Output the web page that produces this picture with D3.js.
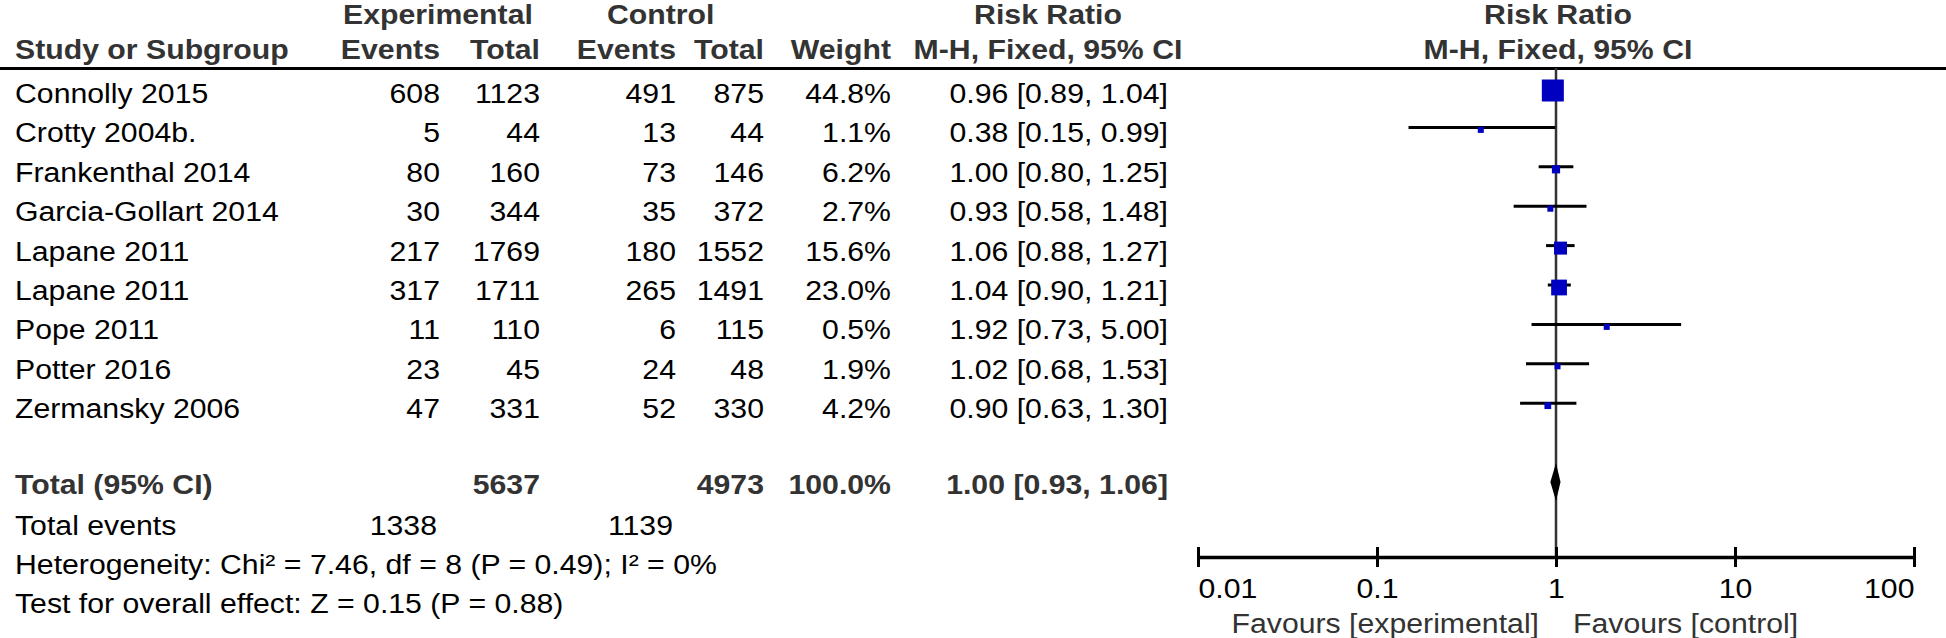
<!DOCTYPE html>
<html>
<head>
<meta charset="utf-8">
<script src="https://cdn.jsdelivr.net/npm/d3@7"></script>
<style>
  html, body { margin: 0; padding: 0; background: #fff; }
  svg { display: block; }
  text { font-family: "Liberation Sans", Arial, Helvetica, sans-serif; }
</style>
</head>
<body>
<svg id="chart" width="1946" height="638"></svg>
<script>
// ---------------- data ----------------
const studies = ["Connolly 2015", "Crotty 2004b.", "Frankenthal 2014", "Garcia-Gollart 2014",
  "Lapane 2011", "Lapane 2011", "Pope 2011", "Potter 2016", "Zermansky 2006"];
const expEvents = [608, 5, 80, 30, 217, 317, 11, 23, 47];
const expTotal = [1123, 44, 160, 344, 1769, 1711, 110, 45, 331];
const ctrlEvents = [491, 13, 73, 35, 180, 265, 6, 24, 52];
const ctrlTotal = [875, 44, 146, 372, 1552, 1491, 115, 48, 330];
const weights = [44.8, 1.1, 6.2, 2.7, 15.6, 23.0, 0.5, 1.9, 4.2];
const rr = [0.96, 0.38, 1.00, 0.93, 1.06, 1.04, 1.92, 1.02, 0.90];
const lower = [0.89, 0.15, 0.80, 0.58, 0.88, 0.90, 0.73, 0.68, 0.63];
const upper = [1.04, 0.99, 1.25, 1.48, 1.27, 1.21, 5.00, 1.53, 1.30];

const totalLabel = "Total (95% CI)";
const totalExp = 5637, totalCtrl = 4973, totalWeight = 100.0;
const totalRR = 1.00, totalLower = 0.93, totalUpper = 1.06;
const totalEventsExp = 1338, totalEventsCtrl = 1139;
const heterogeneity = "Heterogeneity: Chi² = 7.46, df = 8 (P = 0.49); I² = 0%";
const overallTest = "Test for overall effect: Z = 0.15 (P = 0.88)";
const tickValues = [0.01, 0.1, 1, 10, 100];
const tickLabels = ["0.01", "0.1", "1", "10", "100"];
const favourLeft = "Favours [experimental]";
const favourRight = "Favours [control]";

// ---------------- layout ----------------
const W = 1946, H = 638;
const FS = 27, SX = 1.12;
const svg = d3.select("#chart");

const rowY = d3.scaleLinear().domain([0, studies.length - 1]).range([103, 103 + 39.4 * (studies.length - 1)]);
const x = d3.scaleLog().domain([0.01, 100]).range([1198, 1914]);
const sq = d3.scaleSqrt().domain([0, 44.8]).range([0, 22]);

const col = { name: 15, expE: 440, expT: 540, ctlE: 676, ctlT: 764, wt: 891, rr: 1168 };

function txt(xp, yp, s, opt = {}) {
  return svg.append("text")
    .attr("transform", `translate(${xp},${yp}) scale(${SX},1)`)
    .attr("text-anchor", opt.anchor || "start")
    .attr("font-size", (opt.size || FS) + "px")
    .attr("font-weight", opt.bold ? "bold" : "normal")
    .attr("fill", opt.fill || "#000")
    .text(s);
}
const hdr = "#333";
const fmtRR = (a, l, u) => `${a.toFixed(2)} [${l.toFixed(2)}, ${u.toFixed(2)}]`;

// headers
txt(343, 24, "Experimental", { bold: true, fill: hdr });
txt(607, 24, "Control", { bold: true, fill: hdr });
txt(1048, 24, "Risk Ratio", { bold: true, fill: hdr, anchor: "middle" });
txt(1558, 24, "Risk Ratio", { bold: true, fill: hdr, anchor: "middle" });
txt(col.name, 59, "Study or Subgroup", { bold: true, fill: hdr });
txt(col.expE, 59, "Events", { bold: true, fill: hdr, anchor: "end" });
txt(col.expT, 59, "Total", { bold: true, fill: hdr, anchor: "end" });
txt(col.ctlE, 59, "Events", { bold: true, fill: hdr, anchor: "end" });
txt(col.ctlT, 59, "Total", { bold: true, fill: hdr, anchor: "end" });
txt(col.wt, 59, "Weight", { bold: true, fill: hdr, anchor: "end" });
txt(1048, 59, "M-H, Fixed, 95% CI", { bold: true, fill: hdr, anchor: "middle" });
txt(1558, 59, "M-H, Fixed, 95% CI", { bold: true, fill: hdr, anchor: "middle" });

svg.append("line").attr("x1", 0).attr("x2", W).attr("y1", 68.5).attr("y2", 68.5)
  .attr("stroke", "#000").attr("stroke-width", 3);

// rows
studies.forEach((s, i) => {
  const y = rowY(i);
  txt(col.name, y, s);
  txt(col.expE, y, expEvents[i], { anchor: "end" });
  txt(col.expT, y, expTotal[i], { anchor: "end" });
  txt(col.ctlE, y, ctrlEvents[i], { anchor: "end" });
  txt(col.ctlT, y, ctrlTotal[i], { anchor: "end" });
  txt(col.wt, y, weights[i].toFixed(1) + "%", { anchor: "end" });
  txt(col.rr, y, fmtRR(rr[i], lower[i], upper[i]), { anchor: "end" });
});

// total rows
const yTot = 494;
txt(col.name, yTot, totalLabel, { bold: true, fill: hdr });
txt(col.expT, yTot, totalExp, { bold: true, fill: hdr, anchor: "end" });
txt(col.ctlT, yTot, totalCtrl, { bold: true, fill: hdr, anchor: "end" });
txt(col.wt, yTot, totalWeight.toFixed(1) + "%", { bold: true, fill: hdr, anchor: "end" });
txt(col.rr, yTot, fmtRR(totalRR, totalLower, totalUpper), { bold: true, fill: hdr, anchor: "end" });
txt(col.name, 535, "Total events");
txt(col.expE - 3, 535, totalEventsExp, { anchor: "end" });
txt(col.ctlE - 3, 535, totalEventsCtrl, { anchor: "end" });
txt(col.name, 574, heterogeneity);
txt(col.name, 613, overallTest);

// plot: reference line
const axisY = 557;
svg.append("line").attr("x1", x(1)).attr("x2", x(1)).attr("y1", 68).attr("y2", axisY)
  .attr("stroke", "#333").attr("stroke-width", 2.5);

// CI lines and squares
const g = svg.append("g");
studies.forEach((s, i) => {
  const y = rowY(i) - 15;
  g.append("line").attr("x1", x(lower[i])).attr("x2", x(upper[i])).attr("y1", y).attr("y2", y)
    .attr("stroke", "#000").attr("stroke-width", 3);
  const side = Math.max(6, sq(weights[i]));
  g.append("rect").attr("x", x(rr[i]) - side / 2).attr("y", y + 2.5 - side / 2)
    .attr("width", side).attr("height", side).attr("fill", "#0000C0");
});

// diamond
const dy = 482, dh = 19;
svg.append("path")
  .attr("d", `M${x(totalLower)},${dy} L${x(totalRR)},${dy - dh} L${x(totalUpper)},${dy} L${x(totalRR)},${dy + dh} Z`)
  .attr("fill", "#000");

// axis
const axis = d3.axisBottom(x).tickValues(tickValues)
  .tickFormat((d, i) => tickLabels[i]).tickSizeInner(10).tickSizeOuter(0);
const ag = svg.append("g").attr("transform", `translate(0,${axisY})`).call(axis);
ag.select(".domain").attr("stroke", "#000").attr("stroke-width", 3.5);
ag.selectAll(".tick line").attr("y1", -10).attr("y2", 10).attr("stroke", "#000").attr("stroke-width", 3);
ag.selectAll(".tick text")
  .attr("y", 0).attr("dy", 0)
  .attr("transform", `translate(0,41) scale(${SX},1)`)
  .attr("font-size", FS + "px").attr("fill", "#000")
  .attr("font-family", '"Liberation Sans", Arial, sans-serif')
  .attr("text-anchor", (d, i) => i === 0 ? "start" : (i === tickValues.length - 1 ? "end" : "middle"));

txt(x(1) - 17, 633, favourLeft, { anchor: "end", fill: "#333" });
txt(x(1) + 17, 633, favourRight, { anchor: "start", fill: "#333" });
</script>
</body>
</html>
